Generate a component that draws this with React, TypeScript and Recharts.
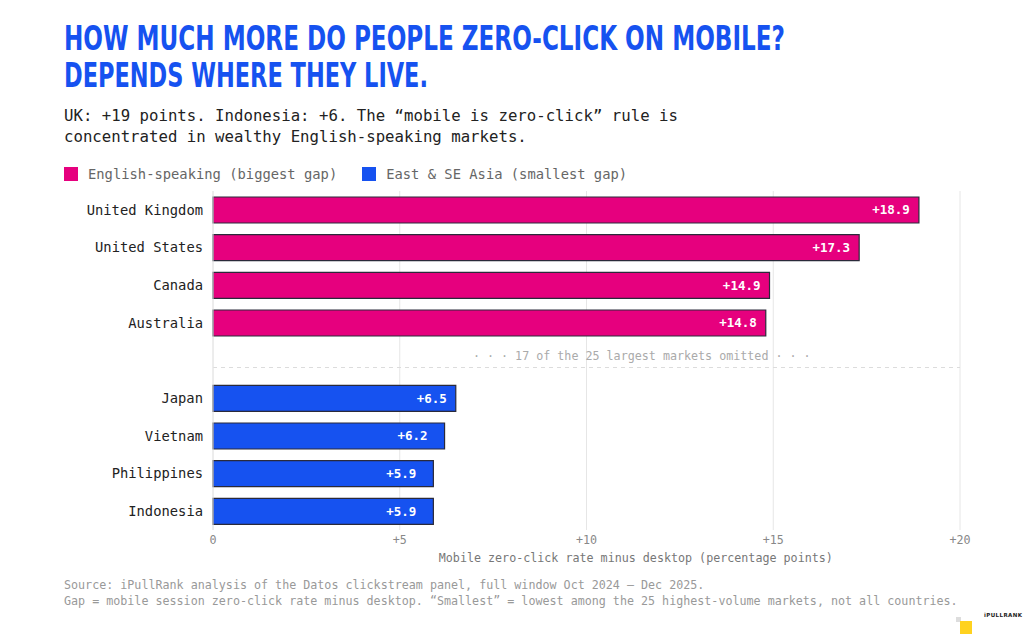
import React from 'react';
import {
  BarChart,
  Bar,
  Cell,
  XAxis,
  YAxis,
  CartesianGrid,
  ReferenceLine,
  LabelList,
} from 'recharts';

// markets shown, top to bottom ("gap" is the omitted-markets row)
const markets = [
  'United Kingdom',
  'United States',
  'Canada',
  'Australia',
  'gap',
  'Japan',
  'Vietnam',
  'Philippines',
  'Indonesia',
];
const gaps = [18.9, 17.3, 14.9, 14.8, null, 6.5, 6.2, 5.9, 5.9];
const groups = ['en', 'en', 'en', 'en', null, 'asia', 'asia', 'asia', 'asia'];

const groupKeys = ['en', 'asia'];
const groupNames = ['English-speaking (biggest gap)', 'East & SE Asia (smallest gap)'];
const groupColors = ['#E6007E', '#1652F0'];

const xTicks = [0, 5, 10, 15, 20];

const MONO = '"DejaVu Sans Mono", "Liberation Mono", monospace';
const BLUE = '#1652F0';

const data = markets.map((m, i) => ({ market: m, gap: gaps[i], group: groups[i] }));

function colorOf(g: string | null) {
  const i = groupKeys.indexOf(g as string);
  return i >= 0 ? groupColors[i] : 'transparent';
}

function fmtTick(v: number) {
  return v === 0 ? '0' : `+${v}`;
}

function YTick(props: any) {
  const { x, y, payload } = props;
  if (payload.value === 'gap') return null;
  return (
    <text x={x} y={y} dy="0.35em" textAnchor="end" fontFamily={MONO} fontSize={13.8} fill="#222">
      {payload.value}
    </text>
  );
}

function BarValue(props: any) {
  const { x, y, width, height, value, index } = props;
  if (value == null) return null;
  const pad = groups[index] === 'asia' ? 17 : 9;
  return (
    <text
      x={x + width - pad}
      y={y + height / 2}
      dy="0.35em"
      textAnchor="end"
      fontFamily={MONO}
      fontWeight="bold"
      fontSize={12.5}
      fill="#fff"
    >
      {`+${value.toFixed(1)}`}
    </text>
  );
}

export default function App() {
  return (
    <div
      style={{
        position: 'relative',
        width: 1024,
        height: 634,
        background: '#fff',
        overflow: 'hidden',
        fontFamily: MONO,
      }}
    >
      <style>{'body{margin:0}'}</style>

      {/* Title */}
      <svg width={1024} height={100} style={{ position: 'absolute', left: 0, top: 0 }}>
        <text
          x={64}
          y={50}
          fontFamily='"DejaVu Sans Condensed", "DejaVu Sans", sans-serif'
          fontWeight="bold"
          fontSize={34}
          fill={BLUE}
          textLength={721}
          lengthAdjust="spacingAndGlyphs"
        >
          HOW MUCH MORE DO PEOPLE ZERO-CLICK ON MOBILE?
        </text>
        <text
          x={64}
          y={87}
          fontFamily='"DejaVu Sans Condensed", "DejaVu Sans", sans-serif'
          fontWeight="bold"
          fontSize={34}
          fill={BLUE}
          textLength={364}
          lengthAdjust="spacingAndGlyphs"
        >
          DEPENDS WHERE THEY LIVE.
        </text>
      </svg>

      {/* Subtitle */}
      <div
        style={{
          position: 'absolute',
          left: 64,
          top: 105,
          fontSize: 15.7,
          lineHeight: '21px',
          color: '#222',
          whiteSpace: 'pre',
        }}
      >
        {'UK: +19 points. Indonesia: +6. The “mobile is zero-click” rule is\nconcentrated in wealthy English-speaking markets.'}
      </div>

      {/* Legend */}
      <div style={{ position: 'absolute', left: 64, top: 166, display: 'flex', alignItems: 'center' }}>
        {groupNames.map((name, i) => (
          <div key={name} style={{ display: 'flex', alignItems: 'center', marginRight: 25 }}>
            <div style={{ width: 14, height: 14, background: groupColors[i], marginRight: 10 }} />
            <span style={{ fontSize: 13.8, color: '#666', lineHeight: '16px' }}>{name}</span>
          </div>
        ))}
      </div>

      {/* Chart */}
      <div style={{ position: 'absolute', left: 0, top: 185 }}>
        <BarChart
          width={1024}
          height={385}
          data={data}
          layout="vertical"
          margin={{ top: 6, right: 64, bottom: 0, left: 0 }}
          barSize={26}
        >
          <CartesianGrid horizontal={false} vertical stroke="#e6e6e6" />
          <XAxis
            type="number"
            domain={[0, 20]}
            ticks={xTicks}
            tickFormatter={fmtTick}
            axisLine={false}
            tickLine={false}
            tickSize={0}
            tickMargin={6}
            tick={{ fontFamily: MONO, fontSize: 11.7, fill: '#888' }}
            height={40}
            label={{
              content: (p: any) => {
                const vb = p.viewBox;
                return (
                  <text
                    x={vb.x + vb.width * 0.566}
                    y={vb.y + 32}
                    textAnchor="middle"
                    fontFamily={MONO}
                    fontSize={11.7}
                    fill="#777"
                  >
                    Mobile zero-click rate minus desktop (percentage points)
                  </text>
                );
              },
            }}
          />
          <YAxis
            type="category"
            dataKey="market"
            width={213}
            axisLine={{ stroke: '#e6e6e6' }}
            tickLine={false}
            tickSize={0}
            tickMargin={10}
            tick={<YTick />}
            interval={0}
          />
          <ReferenceLine
            y="gap"
            stroke="#dcdcdc"
            strokeDasharray="4 4"
            shape={(p: any) => (
              <line x1={p.x1} y1={p.y1 + 7} x2={p.x2} y2={p.y2 + 7} stroke="#dcdcdc" strokeDasharray="4 4" />
            )}
            label={{
              content: (p: any) => {
                const vb = p.viewBox;
                return (
                  <text
                    x={vb.x + vb.width * 0.574}
                    y={vb.y - 5}
                    dy="0.35em"
                    textAnchor="middle"
                    fontFamily={MONO}
                    fontSize={11.7}
                    fill="#aaa"
                  >
                    · · · 17 of the 25 largest markets omitted · · ·
                  </text>
                );
              },
            }}
          />
          <Bar dataKey="gap" isAnimationActive={false} stroke="#2a2a3a" strokeWidth={1.2}>
            {data.map((d) => (
              <Cell key={d.market} fill={colorOf(d.group)} />
            ))}
            <LabelList dataKey="gap" content={<BarValue />} />
          </Bar>
        </BarChart>
      </div>

      {/* Footer */}
      <div
        style={{
          position: 'absolute',
          left: 64,
          top: 577,
          fontSize: 11.7,
          lineHeight: '16px',
          color: '#999',
          whiteSpace: 'pre',
        }}
      >
        {'Source: iPullRank analysis of the Datos clickstream panel, full window Oct 2024 – Dec 2025.\nGap = mobile session zero-click rate minus desktop. “Smallest” = lowest among the 25 highest-volume markets, not all countries.'}
      </div>

      {/* Logo */}
      <div style={{ position: 'absolute', left: 956, top: 617, width: 5, height: 5, background: '#ddd' }} />
      <div style={{ position: 'absolute', left: 960, top: 621, width: 12, height: 13, background: '#FFD21F' }} />
      <div
        style={{
          position: 'absolute',
          left: 984,
          top: 612,
          fontFamily: '"DejaVu Sans", sans-serif',
          fontWeight: 'bold',
          fontSize: 5.5,
          color: '#222',
          letterSpacing: 0.4,
        }}
      >
        iPULLRANK
      </div>
    </div>
  );
}
